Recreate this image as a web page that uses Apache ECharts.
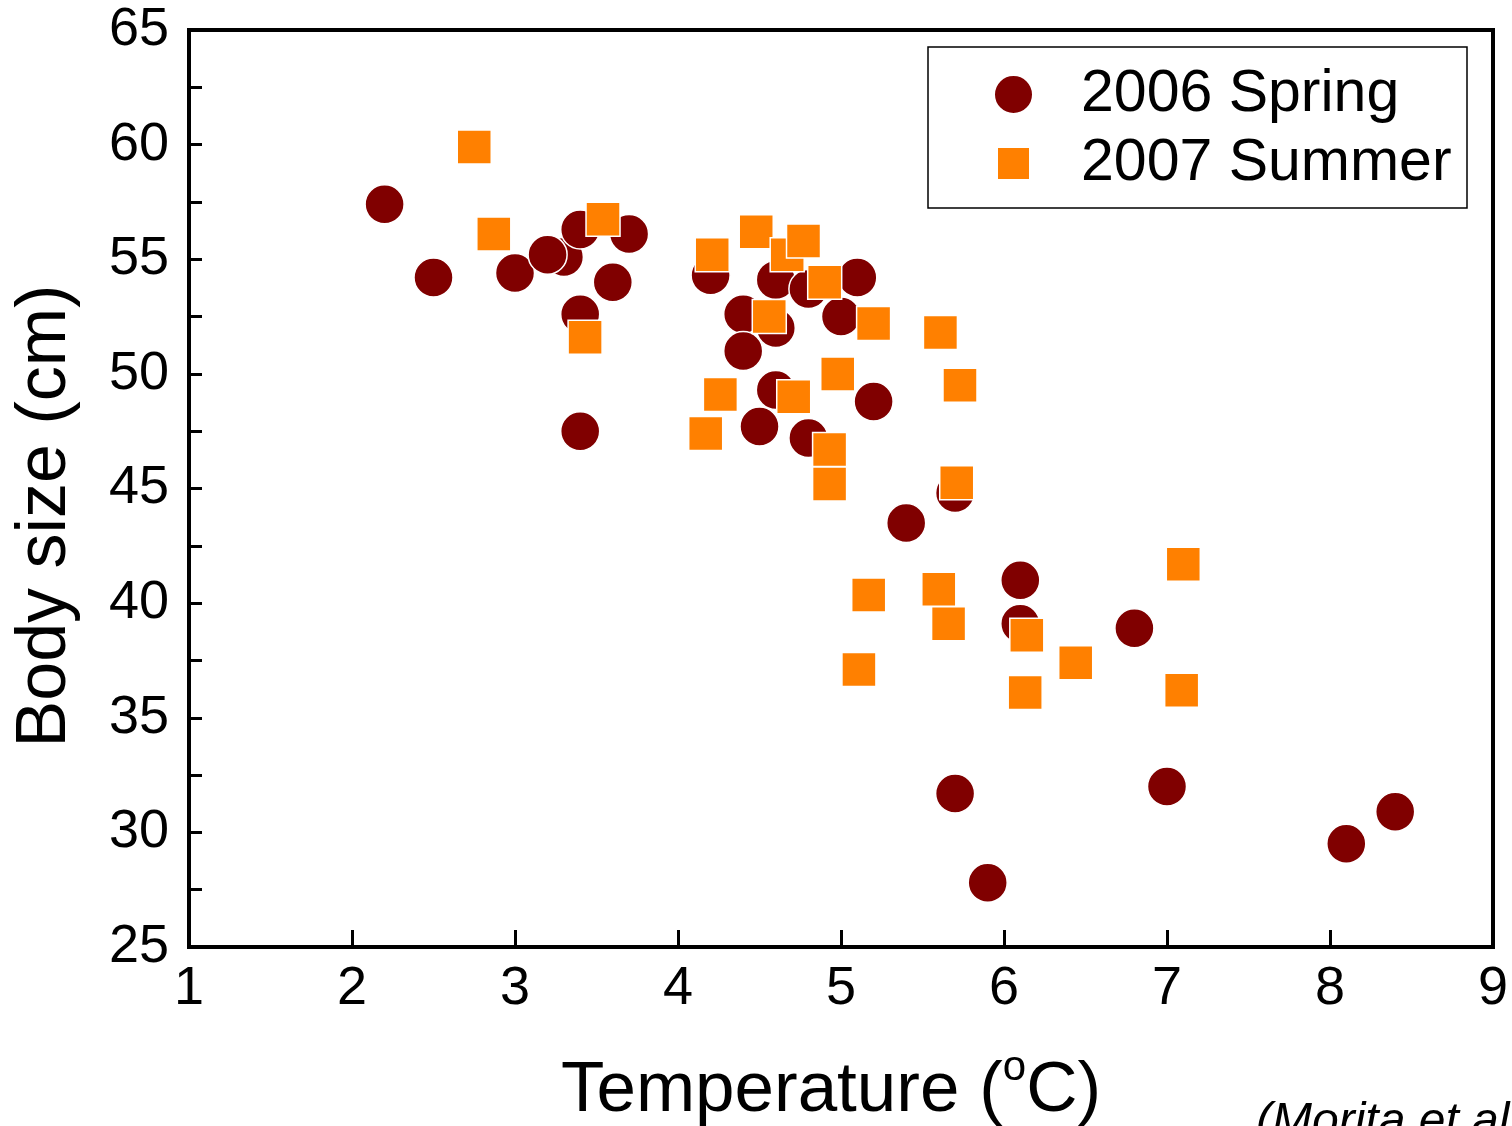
<!DOCTYPE html>
<html>
<head>
<meta charset="utf-8">
<script src="https://cdn.jsdelivr.net/npm/echarts@6/dist/echarts.min.js"></script>
<style>
    html, body { margin: 0; padding: 0; background: #fff; }
    #chart { width: 1512px; height: 1126px; }
</style>
</head>
<body>
<div id="chart"></div>
<script>
// 2006 Spring (circles)
const springTemp = [2.2, 2.5, 3.0, 3.3, 3.2, 3.4, 3.7, 3.6, 3.4, 3.4,
    4.2, 4.6, 4.8, 5.1, 4.4, 4.6, 5.0, 4.4, 4.6, 5.2,
    4.5, 4.8, 5.7, 5.4, 6.1, 6.1, 6.8, 5.7, 7.0, 5.9, 8.1, 8.4]
const springSize = [57.4, 54.2, 54.4, 55.1, 55.2, 56.3, 56.1, 54.0, 52.6, 47.5,
    54.3, 54.1, 53.7, 54.2, 52.6, 52.0, 52.5, 51.0, 49.3, 48.8,
    47.7, 47.2, 44.8, 43.5, 41.0, 39.1, 38.9, 31.7, 32.0, 27.8, 29.5, 30.9]

// 2007 Summer (squares)
const summerTemp = [2.75, 2.87, 3.54, 3.43, 4.21, 4.48, 4.67, 4.77, 4.90, 4.56,
    5.20, 5.61, 4.98, 5.73, 4.26, 4.71, 4.17, 4.93, 4.93, 5.71,
    5.17, 5.60, 5.66, 5.11, 6.14, 6.44, 6.13, 7.10, 7.09]
const summerSize = [59.9, 56.1, 56.75, 51.6, 55.2, 56.2, 55.2, 55.8, 54.0, 52.5,
    52.2, 51.8, 50.0, 49.5, 49.1, 49.0, 47.4, 46.7, 45.2, 45.25,
    40.35, 40.6, 39.1, 37.1, 38.6, 37.4, 36.1, 41.7, 36.2]

const seriesNames = ['2006 Spring', '2007 Summer']
const xName = 'Temperature ('
const yName = 'Body size (cm)'
const sourceNote = '(Morita et al.)'

const font = '"Liberation Sans", Arial, sans-serif'
const squareIcon = 'path://M0,0L10,0L10,10L0,10Z'

const pairs = (xs, ys) => xs.map((x, i) => [x, ys[i]])

const chart = echarts.init(document.getElementById('chart'))

const options = {
    backgroundColor: '#fff',
    animation: false,
    textStyle: { fontFamily: font, color: '#000' },
    grid: {
        left: 189,
        top: 30,
        right: 19,
        bottom: 179,
        containLabel: false,
        outerBoundsMode: 'none',
        show: true,
        borderColor: '#000',
        borderWidth: 4
    },
    legend: [
        {
            data: [{ name: seriesNames[0], icon: 'circle' }],
            left: 993,
            top: 65,
            padding: 0,
            itemWidth: 39,
            itemHeight: 39,
            textStyle: { fontSize: 59, color: '#000', fontFamily: font, padding: [0, 0, 0, 43] }
        },
        {
            data: [{ name: seriesNames[1], icon: squareIcon }],
            left: 996,
            top: 134,
            padding: 0,
            itemWidth: 33,
            itemHeight: 33,
            textStyle: { fontSize: 59, color: '#000', fontFamily: font, padding: [0, 0, 0, 46] }
        }
    ],
    xAxis: {
        type: 'value',
        min: 1,
        max: 9,
        interval: 1,
        name: '{a|' + xName + '}{s|o}{a|C)}{p|}',
        nameLocation: 'middle',
        nameGap: 100,
        nameTextStyle: {
            rich: {
                a: { fontSize: 71, fontFamily: font, color: '#000', lineHeight: 80, verticalAlign: 'bottom' },
                s: { fontSize: 42, fontFamily: font, color: '#000', lineHeight: 80, verticalAlign: 'top' },
                p: { width: 20, lineHeight: 80 }
            }
        },
        axisLine: { onZero: false, lineStyle: { color: '#000', width: 4 } },
        axisTick: { inside: true, length: 17, lineStyle: { color: '#000', width: 3 } },
        axisLabel: { fontSize: 54, color: '#000', margin: 15, fontFamily: font },
        splitLine: { show: false }
    },
    yAxis: {
        type: 'value',
        min: 25,
        max: 65,
        interval: 5,
        axisLine: { onZero: false, lineStyle: { color: '#000', width: 4 } },
        axisTick: { inside: true, length: 13, lineStyle: { color: '#000', width: 3 } },
        minorTick: { show: true, splitNumber: 2, length: 13, lineStyle: { color: '#000', width: 3 } },
        axisLabel: { fontSize: 54, color: '#000', margin: 20, fontFamily: font },
        splitLine: { show: false }
    },
    graphic: [
        {
            type: 'rect',
            shape: { x: 928, y: 47, width: 539, height: 161 },
            style: { fill: 'none', stroke: '#000', lineWidth: 1.5 }
        },
        {
            type: 'text',
            x: 46,
            y: 516,
            rotation: Math.PI / 2,
            style: {
                text: yName,
                fontSize: 70,
                fontFamily: font,
                fill: '#000',
                align: 'center',
                verticalAlign: 'middle'
            }
        },
        {
            type: 'text',
            left: 1256,
            top: 1099,
            style: {
                text: sourceNote,
                fontSize: 48,
                fontStyle: 'italic',
                fontFamily: font,
                fill: '#000'
            }
        }
    ],
    series: [
        {
            name: seriesNames[0],
            type: 'scatter',
            symbol: 'circle',
            symbolSize: 39,
            itemStyle: { color: '#800000', borderColor: '#fff', borderWidth: 1.5, opacity: 1 },
            data: pairs(springTemp, springSize)
        },
        {
            name: seriesNames[1],
            type: 'scatter',
            symbol: 'rect',
            symbolSize: 34,
            itemStyle: { color: '#ff8000', borderColor: '#fff', borderWidth: 1.5, opacity: 1 },
            data: pairs(summerTemp, summerSize)
        }
    ]
}

chart.setOption(options)
</script>
</body>
</html>
